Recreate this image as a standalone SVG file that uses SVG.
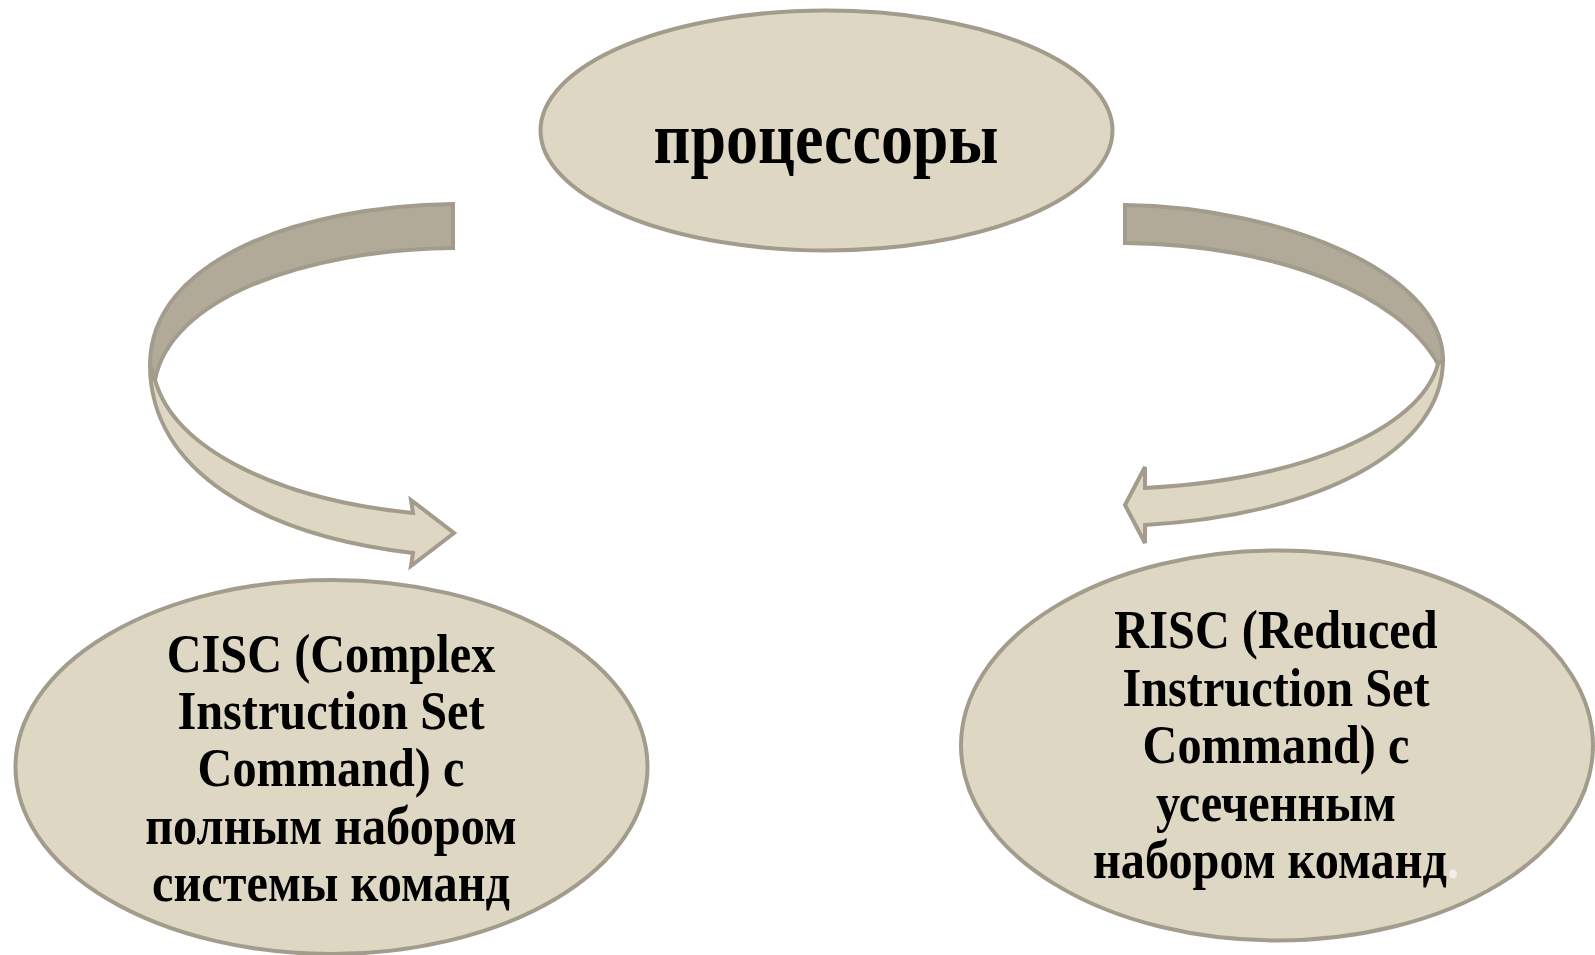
<svg xmlns="http://www.w3.org/2000/svg" width="1595" height="955" viewBox="0 0 1595 955">
<style>
.node{fill:#ded7c4;stroke:#a39c8d;stroke-width:4}
.dark{fill:#b1aa99;stroke:#a39c8d;stroke-width:4;stroke-linejoin:miter}
.light{fill:#ded7c4;stroke:#a39c8d;stroke-width:4;stroke-linejoin:miter}
.t{font-family:"Liberation Serif","Times New Roman",serif;font-weight:bold;fill:#000;text-anchor:middle}
.big{font-size:64px}
.sm{font-size:48.3px}
</style>
<rect width="1595" height="955" fill="#ffffff"/>
<g id="connectors">
  <g id="arrow-left">
    <path class="dark" d="M453 204 C300 206 150 260 150 365 L155 380 C170 300 300 250 453 248 Z"/>
    <path class="light" d="M150 365 C150 470 260 535 413 553 L411 566 L454 533 L411 500 L413 513 C280 500 175 450 155 380 Z"/>
  </g>
  <g id="arrow-right">
    <path class="dark" d="M1125 205 C1280 207 1443 272 1443 360 L1438 364 C1400 295 1280 245 1125 243 Z"/>
    <path class="light" d="M1443 360 C1443 450 1320 515 1145 525 L1145 543 L1125 505 L1145 467 L1145 488 C1300 480 1420 430 1438 364 Z"/>
  </g>
</g>
<g id="node-processors">
  <ellipse class="node" cx="826.5" cy="130.5" rx="286" ry="120"/>
  <text class="t big" transform="translate(826,163) scale(1,1.17)">процессоры</text>
</g>
<g id="node-cisc">
  <ellipse class="node" cx="331.5" cy="767" rx="316" ry="187"/>
  <text class="t sm" transform="translate(331,672) scale(1,1.12)">CISC (Complex</text>
  <text class="t sm" transform="translate(331,729) scale(1,1.12)">Instruction Set</text>
  <text class="t sm" transform="translate(331,786) scale(1,1.12)">Command) с</text>
  <text class="t sm" transform="translate(331,844) scale(1,1.12)">полным набором</text>
  <text class="t sm" transform="translate(331,901) scale(1,1.12)">системы команд</text>
</g>
<g id="node-risc">
  <ellipse class="node" cx="1277" cy="745.5" rx="316" ry="195"/>
  <text class="t sm" transform="translate(1276,648) scale(1,1.12)">RISC (Reduced</text>
  <text class="t sm" transform="translate(1276,706) scale(1,1.12)">Instruction Set</text>
  <text class="t sm" transform="translate(1276,763) scale(1,1.12)">Command) с</text>
  <text class="t sm" transform="translate(1276,821) scale(1,1.12)">усеченным</text>
  <text class="t sm" transform="translate(1276,878) scale(1,1.12)">набором команд<tspan fill="#f2efe8">.</tspan></text>
</g>
</svg>
